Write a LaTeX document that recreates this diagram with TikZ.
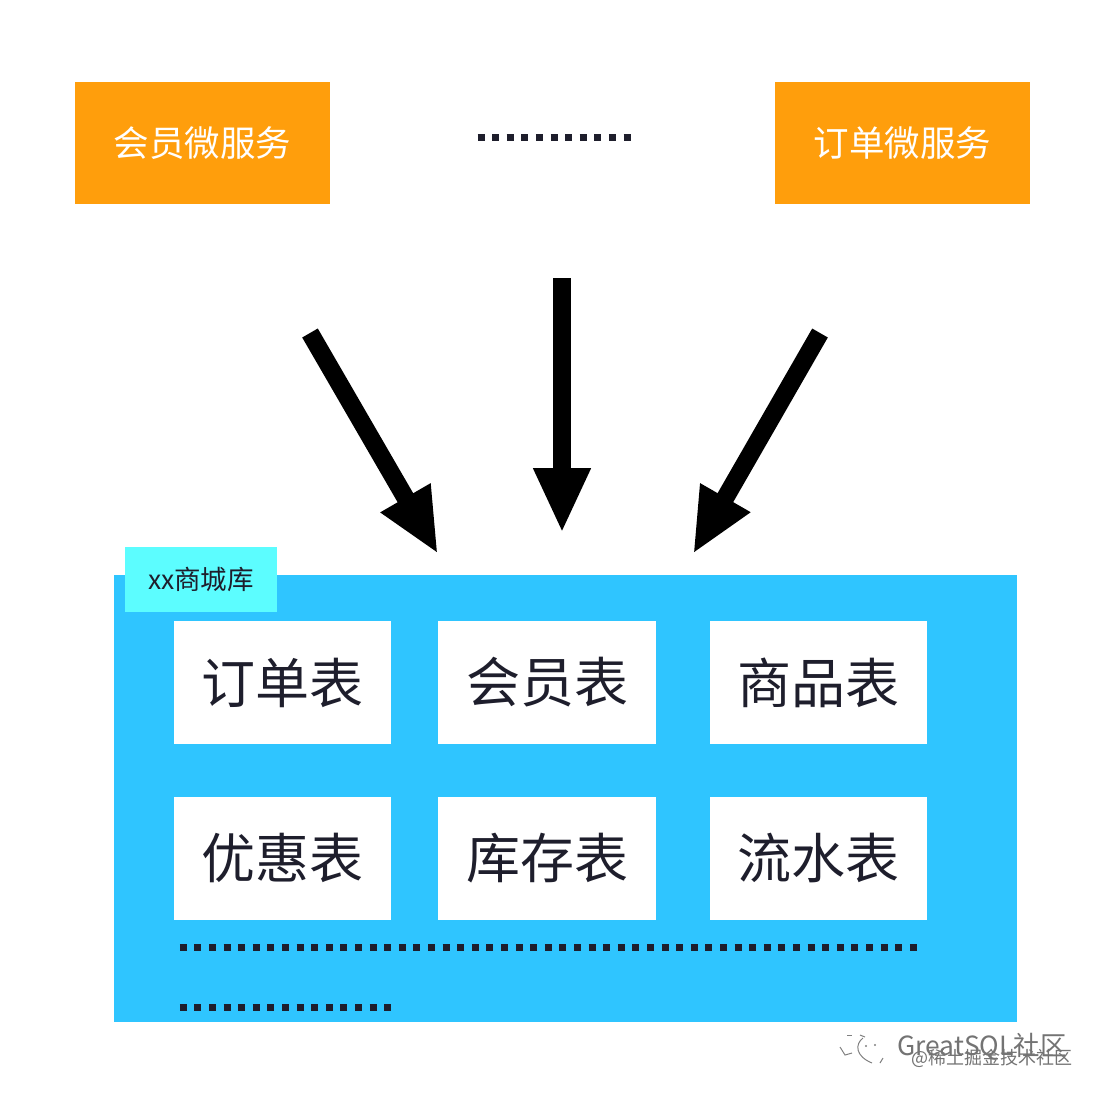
\documentclass[tikz,border=0pt]{standalone}
\usepackage{fontspec}
\setmainfont{Noto Sans CJK SC}
\usetikzlibrary{arrows.meta}
\definecolor{svc}{HTML}{FF9E0C}
\definecolor{dbblue}{HTML}{2FC5FF}
\definecolor{tabc}{HTML}{5CFDFF}
\definecolor{ink}{HTML}{1E1E2C}
\tikzset{
  x=1pt,y=-1pt,
  svcbox/.style={rectangle,fill=svc,text=white,minimum width=255pt,minimum height=122pt,inner sep=0pt,font=\fontsize{35.5}{36}\selectfont},
  tablebox/.style={rectangle,fill=white,text=ink,minimum width=217.5pt,minimum height=123pt,inner sep=0pt,font=\fontsize{54}{54}\selectfont},
  bigarrow/.style={line width=18pt,line join=round,black,-{Triangle[length=65pt,width=53pt]}},
  dotrow/.style={line width=7pt,ink,dash pattern=on 7pt off 7.6pt},
  wm/.style={inner sep=0pt,anchor=west,text=black!55},
  wmline/.style={black!50,line width=1pt},
}
\begin{document}
\begin{tikzpicture}
\useasboundingbox (0,0) rectangle (1100,1096);
\node[svcbox] (member) at (202.5,143) {会员微服务};
\node[svcbox] (order) at (902.5,143) {订单微服务};
\coordinate (d1a) at (477.5,137); \coordinate (d1b) at (630.5,137);
\draw[dotrow] (d1a) -- (d1b);
\node[rectangle,fill=dbblue,minimum width=903pt,minimum height=447pt,inner sep=0pt] (db) at (565.5,798.5) {};
\node[rectangle,fill=tabc,minimum width=152pt,minimum height=65pt,inner sep=0pt,text=ink,font=\fontsize{26.5}{27}\selectfont] (tab) at (201,579.5) {xx商城库};
\node[tablebox] (t1) at (282.5,682.5) {订单表};
\node[tablebox] (t2) at (547,682.5) {会员表};
\node[tablebox] (t3) at (818.5,682.5) {商品表};
\node[tablebox] (t4) at (282.5,858) {优惠表};
\node[tablebox] (t5) at (547,858) {库存表};
\node[tablebox] (t6) at (818.5,858) {流水表};
\coordinate (d2a) at (179.8,947); \coordinate (d2b) at (916.8,947);
\coordinate (d3a) at (179.8,1007); \coordinate (d3b) at (391.2,1007);
\draw[dotrow] (d2a) -- (d2b);
\draw[dotrow] (d3a) -- (d3b);
\coordinate (a1s) at (310,333); \coordinate (a1e) at (438,554);
\coordinate (a2s) at (562,278); \coordinate (a2e) at (562,533);
\coordinate (a3s) at (820,333); \coordinate (a3e) at (693,554);
\draw[bigarrow] (a1s) -- (a1e);
\draw[bigarrow] (a2s) -- (a2e);
\draw[bigarrow] (a3s) -- (a3e);
\node[wm,font=\fontsize{26.4}{27}\selectfont] (w1) at (897,1047) {GreatSQL社区};
\node[wm,font=\fontsize{18}{18}\selectfont] (w2) at (911,1058) {@稀土掘金技术社区};
\draw[wmline] (863,1038) .. controls (855,1044) and (855,1056) .. (872,1063);
\draw[wmline] (880,1063) -- (883,1058);
\draw[wmline] (840,1047) -- (845,1055) -- (852,1053);
\draw[wmline] (847,1035) -- (852,1035);
\draw[wmline] (860,1035) -- (865,1037);
\fill[black!50] (866,1046) circle (1.2) (875,1045) circle (1.2);
\end{tikzpicture}
\end{document}
